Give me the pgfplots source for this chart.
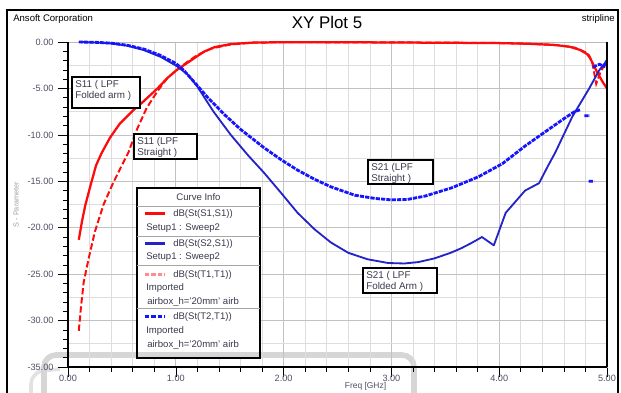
\documentclass[border=0pt]{standalone}
\usepackage{pgfplots}
\pgfplotsset{compat=1.18}
\usepackage{fontspec}
\setmainfont{Liberation Sans}

\definecolor{tickgray}{HTML}{4E4E66}
\definecolor{gridminor}{HTML}{DDDDDD}
\definecolor{gridmajor}{HTML}{C2C2C2}
\definecolor{sblue}{HTML}{2323C8}
\definecolor{dblue}{HTML}{1414FF}
\definecolor{sred}{HTML}{FF0A0A}
\definecolor{pinkleg}{HTML}{FF8C8C}
\definecolor{annot}{HTML}{3A3A4E}
\definecolor{band}{HTML}{D6D6D6}

\begin{document}
\begin{tikzpicture}
\useasboundingbox (0,0) rectangle (155.25mm,-98mm);
\clip (0,0) rectangle (155.25mm,-98mm);

% page frame, header texts and the grey band behind the plot
% (pixel grid: 1 unit = 0.25 mm, y downwards)
\begin{scope}[x=0.25mm,y=-0.25mm]
  \draw[band!70, line width=0.9mm, rounded corners=3mm] (31,400) -- (31,372) -- (60,369);
  \draw[band, line width=1.4mm, rounded corners=3mm] (44,400) -- (44,355) -- (414,355) -- (414,400);
  \draw[line width=0.45mm] (7,10) rectangle (618,420);
  \node[anchor=west, inner sep=0pt, font=\fontsize{6.8}{8}\selectfont] at (13,19) {Ansoft Corporation};
  \node[anchor=east, inner sep=0pt, font=\fontsize{6.8}{8}\selectfont] at (615,19) {stripline};
  \node[inner sep=0pt, font=\fontsize{12}{14}\selectfont] at (327,22.5) {XY Plot 5};
\end{scope}

\begin{axis}[
  at={(17mm,-91.75mm)}, anchor=south west,
  width=134.75mm, height=81.25mm, scale only axis,
  xmin=0, xmax=5, ymin=-35, ymax=0,
  clip=false,
  unbounded coords=jump,
  axis line style={draw=gray!55, line width=0.5pt},
  xtick={0,1,2,3,4,5},
  xticklabels={0.00,1.00,2.00,3.00,4.00,5.00},
  ytick={-35,-30,-25,-20,-15,-10,-5,0},
  yticklabels={-35.00,-30.00,-25.00,-20.00,-15.00,-10.00,-5.00,0.00},
  minor x tick num=4, minor y tick num=4,
  tick align=outside, xtick pos=bottom, ytick pos=left,
  major tick length=2.4mm, minor tick length=1.2mm,
  tick style={black, line width=0.4pt},
  xmajorgrids, xminorgrids, ymajorgrids,
  major grid style={draw=gridmajor, line width=0.45pt},
  minor grid style={draw=gridminor, line width=0.45pt},
  extra y ticks={-32.5,-27.5,-22.5,-17.5,-12.5,-7.5,-2.5},
  extra y tick labels={},
  extra y tick style={major tick length=0pt, major grid style={draw=gridminor, line width=0.45pt}},
  ticklabel style={font=\fontsize{6.5}{7}\selectfont, text=tickgray},
  xticklabel style={yshift=1.6mm},
  xlabel={Freq [GHz]},
  xlabel style={at={(axis description cs:0.552,-0.06)}, anchor=center, inner sep=0pt,
                font=\fontsize{6}{7}\selectfont, text=tickgray},
  ylabel={S - Parameter},
  ylabel style={at={(axis description cs:-0.0965,0.50)}, anchor=center, inner sep=0pt,
                font=\fontsize{5.2}{6}\selectfont, text=gray!75},
]

% S11, folded arm (Setup1 : Sweep2)
\addplot[sred, line width=1.6pt, line join=round] coordinates {
 (0.10,-21.3) (0.13,-19.3) (0.16,-17.6) (0.21,-15.4) (0.26,-13.3) (0.31,-12.0)
 (0.39,-10.3) (0.48,-8.8) (0.61,-7.3) (0.70,-6.4) (0.83,-5.0) (0.92,-3.9)
 (1.01,-3.0) (1.10,-2.3) (1.19,-1.6) (1.26,-1.05) (1.36,-0.55) (1.51,-0.22)
 (1.72,-0.06) (2.00,-0.02) (2.50,-0.02) (3.00,-0.05) (3.50,-0.08) (4.00,-0.12)
 (4.25,-0.18) (4.50,-0.30) (4.65,-0.50) (4.75,-0.85) (4.83,-1.40) (4.88,-2.60)
 (4.92,-3.50) (4.96,-4.30) (5.00,-5.00)
};

% S11, straight (imported)
\addplot[sred, line width=1.4pt, dash pattern=on 4.5pt off 2pt] coordinates {
 (0.10,-31.1) (0.12,-28.6) (0.145,-25.9) (0.19,-23.4) (0.25,-20.4) (0.33,-17.5)
 (0.41,-15.4) (0.49,-13.5) (0.56,-11.9) (0.64,-9.4) (0.73,-7.1) (0.83,-5.3)
 (0.92,-3.9) (1.00,-3.1) (1.10,-2.2) (1.20,-1.4) (1.33,-0.7) (1.50,-0.28)
 (1.70,-0.08) (2.00,-0.02) (2.50,-0.03) (3.00,-0.04) (3.50,-0.07) (4.00,-0.10)
 (4.30,-0.20) (4.55,-0.35) (4.70,-0.60) (4.80,-1.10) (4.86,-2.00) (4.90,-4.50)
 (4.94,-3.20) (4.97,-2.60) (5.00,-3.00)
};

% S21, folded arm (Setup1 : Sweep2)
\addplot[sblue, line width=1.3pt, line join=round] coordinates {
 (0.10,0.0) (0.25,-0.05) (0.39,-0.14) (0.55,-0.40) (0.70,-0.86) (0.86,-1.60)
 (1.01,-2.60) (1.11,-3.50) (1.20,-4.80) (1.35,-7.50) (1.51,-10.0) (1.67,-12.2)
 (1.82,-14.1) (1.98,-16.3) (2.13,-18.4) (2.29,-20.2) (2.44,-21.6) (2.60,-22.7)
 (2.78,-23.4) (2.97,-23.8) (3.12,-23.85) (3.25,-23.7) (3.40,-23.3) (3.55,-22.7)
 (3.65,-22.2) (3.75,-21.6) (3.84,-21.0) (3.95,-21.9) (4.06,-18.4) (4.24,-16.0)
 (4.37,-15.2) (4.45,-13.4) (4.52,-11.9) (4.68,-8.0) (4.83,-5.1) (4.93,-3.0)
 (5.00,-2.0)
};

% S21, straight (imported)
\addplot[dblue, line width=2pt, dash pattern=on 3pt off 0.8pt] coordinates {
 (0.10,0.0) (0.25,-0.03) (0.40,-0.12) (0.55,-0.35) (0.70,-0.75) (0.85,-1.40)
 (1.00,-2.30) (1.07,-3.00) (1.14,-3.90) (1.29,-5.90) (1.45,-7.80) (1.60,-9.40)
 (1.82,-11.4) (1.98,-12.7) (2.13,-13.8) (2.29,-14.8) (2.44,-15.6) (2.66,-16.5)
 (2.85,-16.85) (3.00,-17.0) (3.15,-16.95) (3.31,-16.6) (3.56,-15.7) (3.81,-14.5)
 (4.03,-13.1) (4.24,-11.2) (4.46,-9.4) (4.62,-8.1) (4.70,-7.5) (4.75,-7.3)
 (4.76,nan) (4.79,-7.95) (4.84,-7.95)
 (4.85,nan) (4.83,-15.0) (4.88,-15.0)
 (4.86,nan) (4.87,-2.7) (4.93,-2.4) (4.97,-2.6) (5.00,-2.0)
};

% black axis frame on the left, bottom and right
\draw[black, line width=0.5mm] (rel axis cs:0,1) -- (rel axis cs:0,0) -- (rel axis cs:1,0);
\draw[black, line width=0.35mm] (rel axis cs:1,0) -- (rel axis cs:1,1);
\end{axis}

\begin{scope}[x=0.25mm,y=-0.25mm, every node/.style={inner sep=0pt, text=annot}]
  % curve annotations
  \draw[fill=white, line width=0.3mm] (72,77) rectangle (140,108);
  \node[anchor=north west, align=left, font=\fontsize{7}{7.6}\selectfont] at (75,80.5) {S11 ( LPF\\Folded arm )};
  \draw[fill=white, line width=0.3mm] (134,134) rectangle (197,159);
  \node[anchor=north west, align=left, font=\fontsize{7}{7.6}\selectfont] at (137,137) {S11 (LPF\\Straight )};
  \draw[fill=white, line width=0.3mm] (368,160) rectangle (433,184);
  \node[anchor=north west, align=left, font=\fontsize{7}{7.6}\selectfont] at (371,163) {S21 (LPF\\Straight )};
  \draw[fill=white, line width=0.3mm] (363,268) rectangle (437,293);
  \node[anchor=north west, align=left, font=\fontsize{7}{7.6}\selectfont] at (366,271) {S21 ( LPF\\Folded Arm )};

  % curve info box
  \draw[fill=white, line width=0.35mm] (137,188) rectangle (260,358);
  \fill[band] (138,351.5) rectangle (259,357);
  \node[font=\fontsize{6.8}{8}\selectfont] at (198.5,197.5) {Curve Info};
  \draw[gray!70, line width=0.25mm] (137,206.5) -- (260,206.5);
  \draw[gray!70, line width=0.25mm] (137,236) -- (260,236);
  \draw[gray!70, line width=0.25mm] (137,265) -- (260,265);
  \draw[gray!70, line width=0.25mm] (137,308.5) -- (260,308.5);
  \draw[draw=sred, line width=1.6pt] (145,213.5) -- (165,213.5);
  \draw[draw=sblue, line width=1.6pt] (145,243.5) -- (165,243.5);
  \draw[draw=pinkleg, line width=1.6pt, dash pattern=on 3pt off 1.5pt] (145,274.5) -- (165,274.5);
  \draw[draw=dblue, line width=1.6pt, dash pattern=on 3pt off 1.5pt] (145,316.5) -- (165,316.5);
  \begin{scope}[every node/.style={anchor=west, inner sep=0pt, text=annot, font=\fontsize{6.8}{8}\selectfont}]
    \node at (173,214) {dB(St(S1,S1))};
    \node at (146,228) {Setup1 : Sweep2};
    \node at (173,244) {dB(St(S2,S1))};
    \node at (146,257.5) {Setup1 : Sweep2};
    \node at (173,275) {dB(St(T1,T1))};
    \node at (146,288.5) {Imported};
    \node at (147,301.5) {airbox\_h='20mm' airb};
    \node at (173,317) {dB(St(T2,T1))};
    \node at (146,331.5) {Imported};
    \node at (147,344.5) {airbox\_h='20mm' airb};
  \end{scope}
\end{scope}
\end{tikzpicture}
\end{document}
